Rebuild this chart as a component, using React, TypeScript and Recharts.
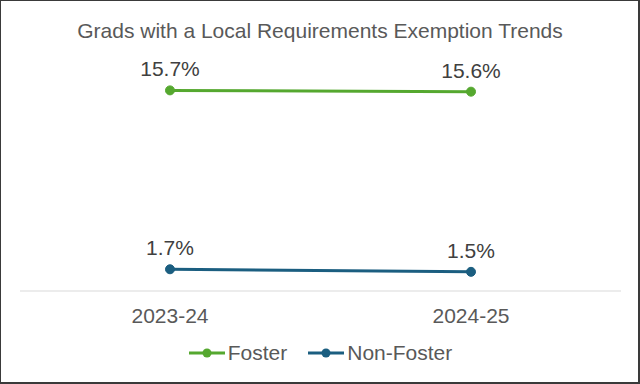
import React from 'react';
import { LineChart, Line, XAxis, YAxis, CartesianGrid, LabelList } from 'recharts';

const years = ['2023-24', '2024-25'];
const fosterRates = [15.7, 15.6];
const nonFosterRates = [1.7, 1.5];

const data = years.map((year, i) => ({
  year,
  foster: fosterRates[i],
  nonFoster: nonFosterRates[i],
}));

const FONT = '"Liberation Sans", Arial, sans-serif';
const GREEN = '#55A82F';
const BLUE = '#1B5E80';

const legendItems = [
  { name: 'Foster', color: GREEN },
  { name: 'Non-Foster', color: BLUE },
];

const Legend: React.FC = () => (
  <div
    style={{
      position: 'absolute',
      top: 340,
      left: 0,
      width: 638,
      display: 'flex',
      justifyContent: 'center',
      fontFamily: FONT,
      fontSize: 21,
      color: '#595959',
    }}
  >
    {legendItems.map((item, i) => (
      <div key={item.name} style={{ display: 'flex', alignItems: 'center', marginLeft: i ? 20 : 0 }}>
        <svg width={38} height={12}>
          <line x1={1} y1={6} x2={37} y2={6} stroke={item.color} strokeWidth={3} />
          <circle cx={19} cy={6} r={4.5} fill={item.color} />
        </svg>
        <span style={{ marginLeft: 2 }}>{item.name}</span>
      </div>
    ))}
  </div>
);

const App: React.FC = () => {
  return (
    <div
      style={{
        position: 'fixed',
        top: 0,
        left: 0,
        width: 640,
        height: 384,
        boxSizing: 'border-box',
        border: '1px solid #3a3a3a',
        borderRightWidth: 2,
        borderBottomWidth: 2,
        background: '#fff',
        fontFamily: FONT,
      }}
    >
      <div
        style={{
          position: 'absolute',
          top: 18,
          left: 0,
          width: 638,
          textAlign: 'center',
          fontSize: 21,
          color: '#595959',
        }}
      >
        Grads with a Local Requirements Exemption Trends
      </div>
      <LineChart
        width={638}
        height={340}
        data={data}
        margin={{ top: 60, right: 18, bottom: 10, left: 19 }}
        style={{ position: 'absolute', top: 0, left: 0 }}
      >
        <CartesianGrid horizontal={false} vertical={false} />
        <XAxis
          dataKey="year"
          padding={{ left: 150, right: 150 }}
          axisLine={{ stroke: '#D9D9D9', strokeWidth: 1 }}
          tickLine={false}
          tick={{ fill: '#595959', fontSize: 21, fontFamily: FONT }}
          tickMargin={11}
          height={40}
        />
        <YAxis hide domain={[0, 18]} />
        <Line
          dataKey="foster"
          stroke={GREEN}
          strokeWidth={3}
          dot={{ r: 4.5, fill: GREEN, stroke: GREEN, strokeWidth: 1 }}
          isAnimationActive={false}
        >
          <LabelList
            dataKey="foster"
            position="top"
            offset={14}
            formatter={(v: number) => `${v}%`}
            style={{ fill: '#404040', fontSize: 21, fontFamily: FONT }}
          />
        </Line>
        <Line
          dataKey="nonFoster"
          stroke={BLUE}
          strokeWidth={3}
          dot={{ r: 4.5, fill: BLUE, stroke: BLUE, strokeWidth: 1 }}
          isAnimationActive={false}
        >
          <LabelList
            dataKey="nonFoster"
            position="top"
            offset={14}
            formatter={(v: number) => `${v}%`}
            style={{ fill: '#404040', fontSize: 21, fontFamily: FONT }}
          />
        </Line>
      </LineChart>
      <Legend />
    </div>
  );
};

export default App;
